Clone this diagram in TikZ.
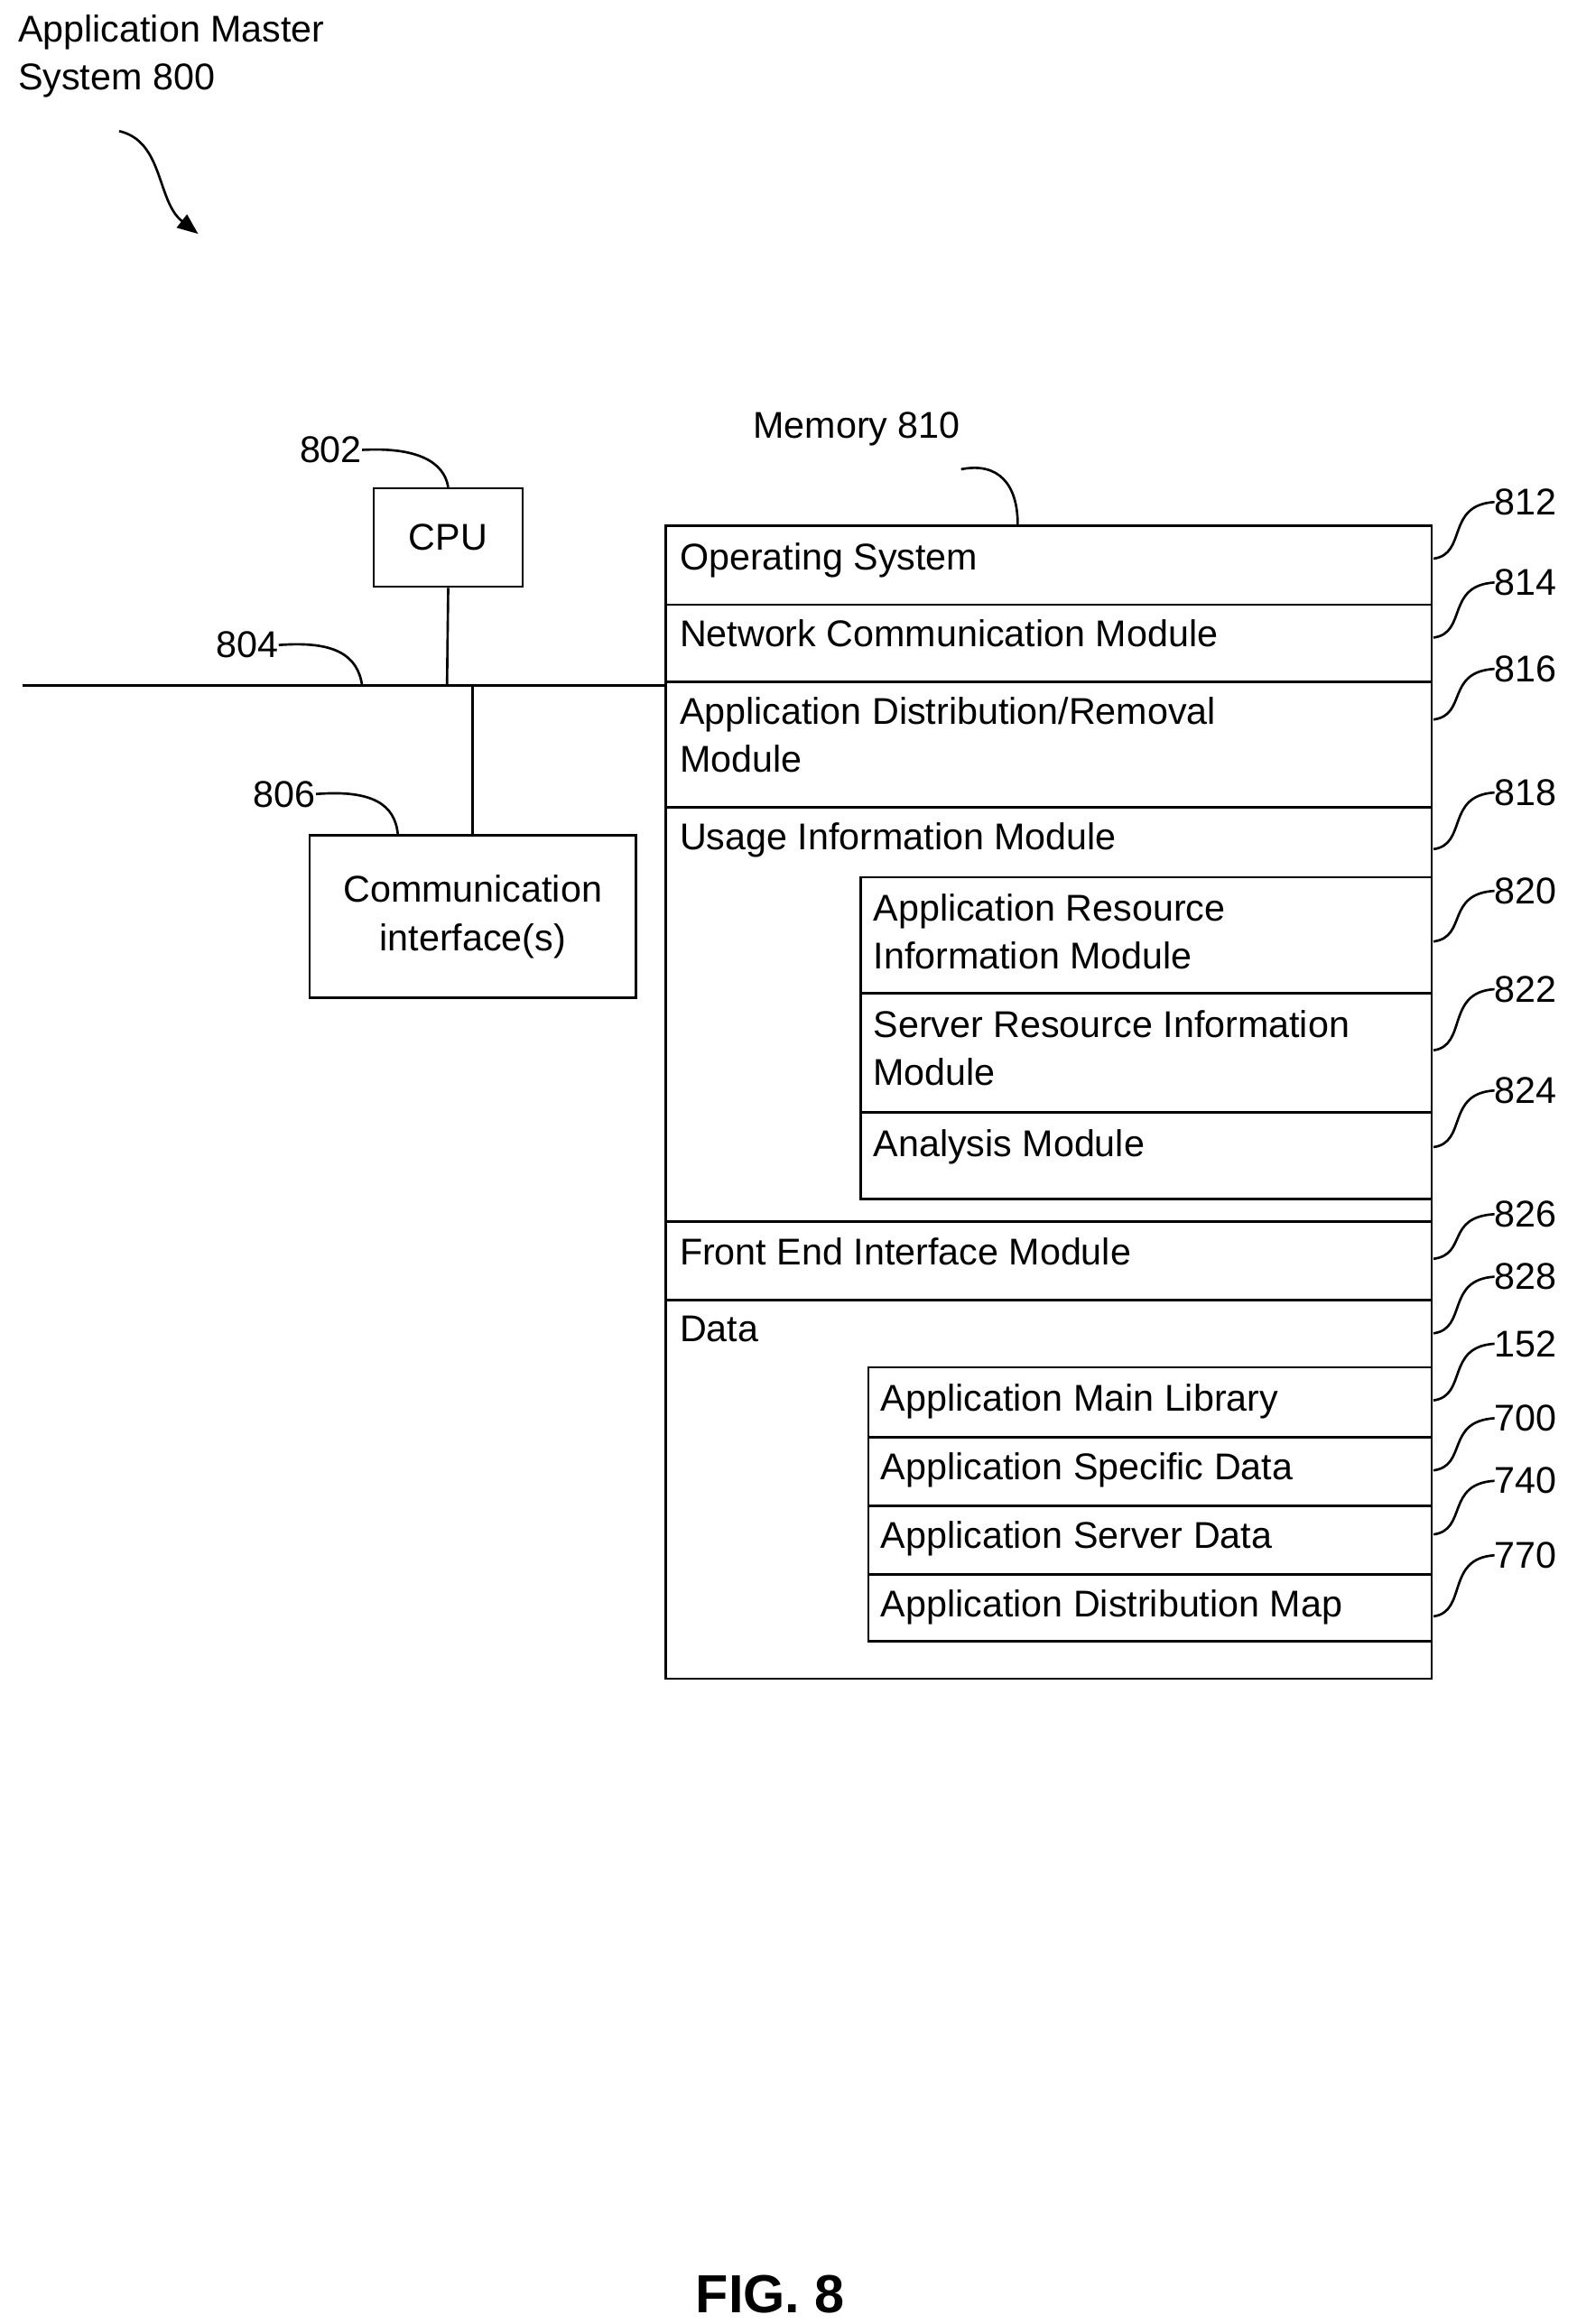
\documentclass[tikz,border=0pt]{standalone}
\usepackage{fontspec}
\setmainfont{Liberation Sans}
\usetikzlibrary{arrows.meta}
\begin{document}
\begin{tikzpicture}[x=1pt,y=-1pt,
  box/.style={draw,line width=1.6pt,inner sep=0pt,anchor=north west},
  txt/.style={anchor=north west,inner sep=0pt,font=\fontsize{25}{32}\selectfont,align=left},
  lbl/.style={inner sep=0pt,font=\fontsize{25}{30}\selectfont},
  ln/.style={line width=1.6pt}]
\useasboundingbox (0,0) rectangle (1058,1560);
% title
\node[txt] (title) at (12,10) {Application Master\\System 800};
\coordinate (ta) at (80,88); \coordinate (tb) at (133,157);
\draw[ln,-{Triangle[length=14pt,width=11pt]}] (ta) .. controls (110,95) and (105,135) .. (tb);
% CPU
\node[box,minimum width=100pt,minimum height=66pt] (cpu) at (250,327) {};
\node[lbl] (cput) at (cpu.center) {CPU};
\node[lbl] (l802) at (222,302) {802};
\draw[ln] (l802.east) .. controls (280,300) and (298,310) .. (cpu.north);
% bus
\coordinate (bl) at (15,460); \coordinate (br) at (446,460);
\coordinate (bc) at (300,460); \coordinate (bm) at (317,460);
\draw[ln] (bl) -- (br);
\draw[ln] (cpu.south) -- (bc);
\node[lbl] (l804) at (166,433) {804};
\coordinate (b804) at (243,460);
\draw[ln] (l804.east) .. controls (225,430) and (240,440) .. (b804);
% comm
\node[box,minimum width=219pt,minimum height=109pt] (comm) at (207,560) {};
\node[lbl,align=center,font=\fontsize{25}{33}\selectfont] (commt) at (comm.center) {Communication\\interface(s)};
\draw[ln] (bm) -- (comm.north -| bm);
\node[lbl] (l806) at (191,533) {806};
\coordinate (c806) at (267,560);
\draw[ln] (l806.east) .. controls (250,530) and (265,540) .. (c806);
% memory
\node[box,minimum width=514pt,minimum height=774pt] (mem) at (446,352) {};
\node[lbl] (l810) at (575,288) {Memory 810};
\draw[ln] (645,315) .. controls (670,310) and (683,325) .. (mem.north -| 683,0);
% rows
\node[box,minimum width=514pt,minimum height=53pt] (os) at (446,352) {};
\node[box,minimum width=514pt,minimum height=52pt] (ncm) at (446,405) {};
\node[box,minimum width=514pt,minimum height=84pt] (adr) at (446,457) {};
\node[box,minimum width=514pt,minimum height=278pt] (uim) at (446,541) {};
\node[box,minimum width=383pt,minimum height=78pt] (arim) at (577,588) {};
\node[box,minimum width=383pt,minimum height=80pt] (srim) at (577,666) {};
\node[box,minimum width=383pt,minimum height=58pt] (anm) at (577,746) {};
\node[box,minimum width=514pt,minimum height=53pt] (fei) at (446,819) {};
\node[box,minimum width=378pt,minimum height=47pt] (aml) at (582,917) {};
\node[box,minimum width=378pt,minimum height=46pt] (asd) at (582,964) {};
\node[box,minimum width=378pt,minimum height=46pt] (asv) at (582,1010) {};
\node[box,minimum width=378pt,minimum height=45pt] (adm) at (582,1056) {};
\node[txt] (t1) at (456,364) {Operating System};
\node[txt] (t2) at (456,416) {Network Communication Module};
\node[txt] (t3) at (456,468) {Application Distribution/Removal\\Module};
\node[txt] (t4) at (456,552) {Usage Information Module};
\node[txt] (t5) at (586,600) {Application Resource\\Information Module};
\node[txt] (t6) at (586,678) {Server Resource Information\\Module};
\node[txt] (t7) at (586,758) {Analysis Module};
\node[txt] (t8) at (456,831) {Front End Interface Module};
\node[txt] (t9) at (456,883) {Data};
\node[txt] (t10) at (591,929) {Application Main Library};
\node[txt] (t11) at (591,975) {Application Specific Data};
\node[txt] (t12) at (591,1021) {Application Server Data};
\node[txt] (t13) at (591,1067) {Application Distribution Map};
% right labels
\foreach \n/\ly/\sy in {812/337/375,814/391/428,816/449/483,818/532/570,820/598/632,822/664/705,824/732/770,826/815/845,828/857/895,152/902/940,700/952/987,740/994/1030,770/1044/1085}{
  \node[lbl,anchor=west] (r\n) at (1003,\ly) {\n};
  \coordinate (s\n) at (962,\sy);
  \draw[ln] (s\n) .. controls (985,\sy-3) and (970,\ly+2) .. (r\n.west);
}
\node[lbl,font=\bfseries\fontsize{36}{40}\selectfont] (fig) at (517,1540) {FIG. 8};
\end{tikzpicture}
\end{document}
